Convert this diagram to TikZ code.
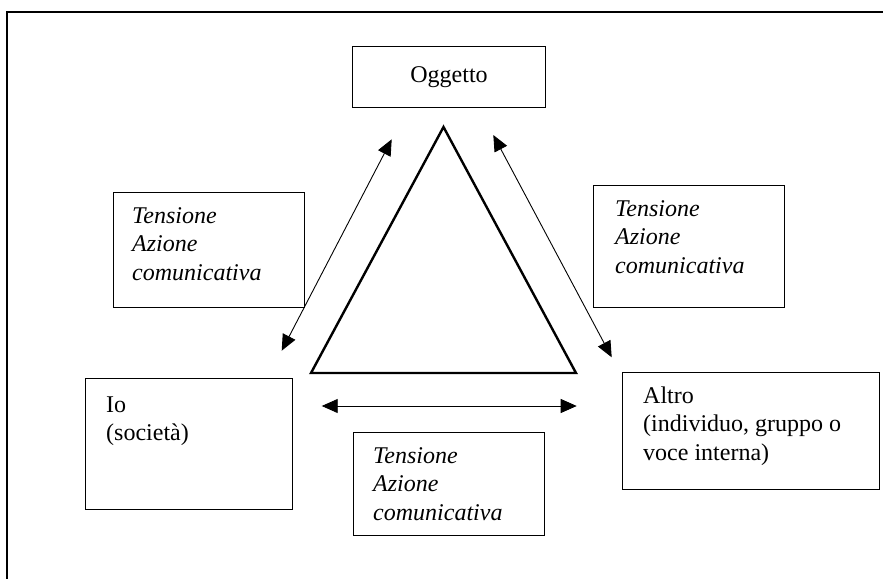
\documentclass[tikz,border=0pt]{standalone}
\usepackage{fontspec}
\setmainfont{Liberation Serif}
\usetikzlibrary{arrows.meta}

% Multi-line text whose reference point is the first baseline
\newcommand\linestack[1]{\vtop{\baselineskip=28.5pt\lineskiplimit=-20pt\lineskip=0pt #1}}

\tikzset{
  panel/.style={draw=black, line width=1.1pt, rectangle, inner sep=0pt, anchor=north west},
  caption/.style={font=\fontsize{24}{28.5}\selectfont, anchor=base west, inner sep=0pt},
  slanted/.style={caption, font=\fontsize{24}{28.5}\selectfont\itshape},
  twoway/.style={line width=0.9pt,
    {Triangle[length=16pt,width=14pt]}-{Triangle[length=16pt,width=14pt]}},
  frameline/.style={line width=2pt},
  wedge/.style={line width=2.4pt, line join=miter},
}

\begin{document}
\begin{tikzpicture}[x=1pt, y=-1pt]
  \clip (0,0) rectangle (883,578);

  % outer frame, running past the right and bottom edges
  \draw[frameline] (7,600) -- (7,12) -- (900,12);

  % top box
  \node[panel, minimum width=193pt, minimum height=61pt,
        font=\fontsize{24}{28.5}\selectfont] (oggetto) at (352,46) {Oggetto};

  % central triangle
  \coordinate (apex)  at (443.5,127);
  \coordinate (baseL) at (311,373);
  \coordinate (baseR) at (576,373);
  \draw[wedge] (apex) -- (baseL) -- (baseR) -- cycle;

  % side boxes with labels
  \node[panel, minimum width=191pt, minimum height=115pt] (tensL) at (113,192) {};
  \node[slanted] (tensLtext) at (132,223)
    {\linestack{\hbox{Tensione}\hbox{Azione}\hbox{comunicativa}}};

  \node[panel, minimum width=191pt, minimum height=122pt] (tensR) at (593,185) {};
  \node[slanted] (tensRtext) at (615,216)
    {\linestack{\hbox{Tensione}\hbox{Azione}\hbox{comunicativa}}};

  \node[panel, minimum width=191pt, minimum height=103pt] (tensB) at (353,432) {};
  \node[slanted] (tensBtext) at (373,463)
    {\linestack{\hbox{Tensione}\hbox{Azione}\hbox{comunicativa}}};

  \node[panel, minimum width=207pt, minimum height=131pt] (io) at (85,378) {};
  \node[caption] (iotext) at (106,412)
    {\linestack{\hbox{Io}\hbox{(società)}}};

  \node[panel, minimum width=257pt, minimum height=117pt] (altro) at (622,372) {};
  \node[caption] (altrotext) at (643,403)
    {\linestack{\hbox{Altro}\hbox{(individuo, gruppo o}\hbox{voce interna)}}};

  % double-headed arrows around the triangle
  \coordinate (lTop) at (391.7,139.3);
  \coordinate (lBot) at (281.7,350.7);
  \coordinate (rTop) at (493.3,135);
  \coordinate (rBot) at (611.7,357.3);
  \coordinate (bL)   at (321.7,406);
  \coordinate (bR)   at (576.7,406);
  \draw[twoway] (lTop) -- (lBot);
  \draw[twoway] (rTop) -- (rBot);
  \draw[twoway] (bL) -- (bR);
\end{tikzpicture}
\end{document}
